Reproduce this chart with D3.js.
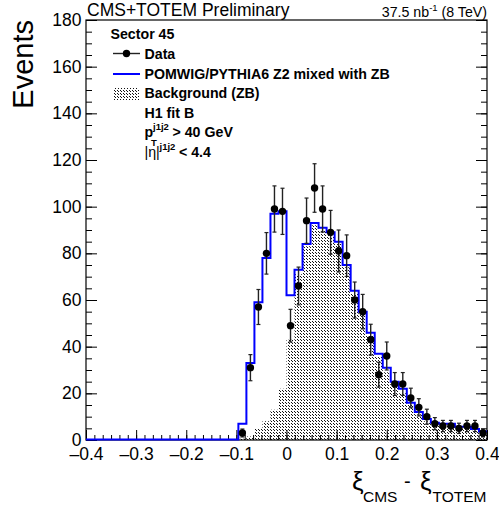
<!DOCTYPE html>
<html>
<head>
<meta charset="utf-8">
<script src="https://cdn.jsdelivr.net/npm/d3@7"></script>
<style>
  body { margin: 0; background: #fff; }
  svg { display: block; }
</style>
</head>
<body>
<script>
// histogram binning
var xMin = -0.4;
var xMax = 0.4;
var binWidth = 0.016;

// data counts per bin (50 bins), and errors
var dataCounts = [0,0,0,0,0,0,0,0,0,0, 0,0,0,0,0,0,0,0,0,3,
  31,57,80,99,98,49,66,94,108,99, 89,81,79,60,55,43,28,36,24,24,
  18,14,10,7,6,6,5,6,6,3];
var dataErrors = [0,0,0,0,0,0,0,0,0,0, 0,0,0,0,0,0,0,0,0,1.7,
  5.6,7.5,8.9,9.9,9.9,7.0,8.1,9.7,10.4,9.9, 9.4,9.0,8.9,7.7,7.4,6.6,5.3,6.0,4.9,4.9,
  4.2,3.7,3.2,2.6,2.4,2.4,2.2,2.4,2.4,1.7];
// POMWIG/PYTHIA6 Z2 mixed with ZB
var mcCounts = [0,0,0,0,0,0,0,0,0,0, 0,0,0,0,0,0,0,0,0,7,
  33,59,78,97,98,62,73,84,93,91, 89,85,75,64,55,46,37,31,25,22,
  16,12,9,7.4,7,7,5.7,5.7,4.7,3.6];
// Background (ZB)
var bgCounts = [0,0,0,0,0,0,0,0,0,0, 0,0,0,0,0,0,0,0,0,0.5,
  1.5,5,8,13,22,43,71,83,92,90, 88,84,74,63,54,45,36,29,23,20,
  15,11,8,6.5,6,6,5,5,4,3];

var xMajor = [-0.4, -0.3, -0.2, -0.1, 0, 0.1, 0.2, 0.3, 0.4];
var yMajor = [0, 20, 40, 60, 80, 100, 120, 140, 160, 180];

var w = 499;
var h = 511;
var padL = 86, padR = 487, padT = 20, padB = 440;
var font = "'Liberation Sans', Arial, sans-serif";

var x = d3.scaleLinear().domain([xMin, xMax]).range([padL, padR]);
var y = d3.scaleLinear().domain([0, 180]).range([padB, padT]);

var svg = d3.select("body").append("svg")
  .attr("width", w)
  .attr("height", h)
  .attr("font-family", font);

// dotted fill like the ROOT pattern
var pat = svg.append("defs").append("pattern")
  .attr("id", "hatch")
  .attr("patternUnits", "userSpaceOnUse")
  .attr("width", 6)
  .attr("height", 6);
[[0,0],[1,1],[3,0],[4,1],[0,3],[1,4],[3,3],[4,4]].forEach(function(p) {
  pat.append("rect").attr("x", p[0]).attr("y", p[1])
    .attr("width", 1).attr("height", 1).attr("fill", "#111");
});

function binLo(i) { return xMin + i * binWidth; }

// background as a filled step area
var bgPts = [];
bgCounts.forEach(function(d, i) {
  bgPts.push([binLo(i), d]);
  bgPts.push([binLo(i + 1), d]);
});
svg.append("path")
  .datum(bgPts)
  .attr("fill", "url(#hatch)")
  .attr("d", d3.area()
    .x(function(d) { return x(d[0]); })
    .y0(y(0))
    .y1(function(d) { return y(d[1]); }));

// minor ticks
var xMinor = d3.range(0, 49).map(function(i) { return xMin + i * 0.1 / 6; });
var yMinor = d3.range(0, 37).map(function(i) { return i * 5; });

svg.append("g").attr("transform", "translate(0," + padB + ")")
  .call(d3.axisBottom(x).tickValues(xMinor).tickSizeInner(-5).tickSizeOuter(0).tickFormat(""));
svg.append("g").attr("transform", "translate(" + padL + ",0)")
  .call(d3.axisLeft(y).tickValues(yMinor).tickSizeInner(-6).tickSizeOuter(0).tickFormat(""));
svg.append("g").attr("transform", "translate(" + padR + ",0)")
  .call(d3.axisRight(y).tickValues(yMinor).tickSizeInner(-6).tickSizeOuter(0).tickFormat(""));

// major ticks with labels
var xAxis = svg.append("g").attr("transform", "translate(0," + padB + ")")
  .call(d3.axisBottom(x).tickValues(xMajor).tickSizeInner(-10).tickSizeOuter(0).tickPadding(7.5)
    .tickFormat(function(d) { return d === 0 ? "0" : d3.format(".1f")(d).replace("-", "\u2013").replace("\u2212", "\u2013"); }));
var yAxis = svg.append("g").attr("transform", "translate(" + padL + ",0)")
  .call(d3.axisLeft(y).tickValues(yMajor).tickSizeInner(-11).tickSizeOuter(0).tickPadding(4.5));
svg.append("g").attr("transform", "translate(" + padR + ",0)")
  .call(d3.axisRight(y).tickValues(yMajor).tickSizeInner(-11).tickSizeOuter(0).tickFormat(""));

svg.selectAll(".domain").remove();
svg.selectAll(".tick line").attr("stroke", "#000");
xAxis.selectAll("text").attr("font-size", "17.5px").attr("fill", "#000").attr("font-family", font);
yAxis.selectAll("text").attr("font-size", "17.5px").attr("fill", "#000").attr("font-family", font);

// frame
svg.append("rect")
  .attr("x", padL).attr("y", padT)
  .attr("width", padR - padL).attr("height", padB - padT)
  .attr("fill", "none").attr("stroke", "#000").attr("stroke-width", 1.2);

// MC step line
var mcPts = [[xMin, 0]];
mcCounts.forEach(function(d, i) {
  mcPts.push([binLo(i), d]);
  mcPts.push([binLo(i + 1), d]);
});
svg.append("path")
  .datum(mcPts)
  .attr("fill", "none")
  .attr("stroke", "#0000ff")
  .attr("stroke-width", 2)
  .attr("d", d3.line()
    .x(function(d) { return x(d[0]); })
    .y(function(d) { return Math.min(y(d[1]), padB - 0.5); }));

// data points with errors
var pts = [];
dataCounts.forEach(function(d, i) {
  if (d > 0) pts.push({ c: xMin + (i + 0.5) * binWidth, v: d, e: dataErrors[i] });
});
var g = svg.append("g");
g.selectAll("line.err")
  .data(pts)
  .enter()
  .append("line")
  .attr("x1", function(d) { return x(d.c); })
  .attr("x2", function(d) { return x(d.c); })
  .attr("y1", function(d) { return y(d.v - d.e); })
  .attr("y2", function(d) { return Math.max(y(d.v + d.e), padT); })
  .attr("stroke", "#222")
  .attr("stroke-width", 1.4);
["lo", "hi"].forEach(function(s) {
  g.selectAll("line.cap" + s)
    .data(pts)
    .enter()
    .append("line")
    .attr("x1", function(d) { return x(d.c) - 2; })
    .attr("x2", function(d) { return x(d.c) + 2; })
    .attr("y1", function(d) { return y(s === "lo" ? d.v - d.e : d.v + d.e); })
    .attr("y2", function(d) { return y(s === "lo" ? d.v - d.e : d.v + d.e); })
    .attr("stroke", "#222")
    .attr("stroke-width", 1.2);
});
g.selectAll("circle")
  .data(pts)
  .enter()
  .append("circle")
  .attr("cx", function(d) { return x(d.c); })
  .attr("cy", function(d) { return y(d.v); })
  .attr("r", 3.7)
  .attr("fill", "#000");

// header texts
svg.append("text").attr("x", 87).attr("y", 16)
  .attr("font-size", "17.5px").text("CMS+TOTEM Preliminary");
var lumi = svg.append("text").attr("x", 487).attr("y", 16.5)
  .attr("text-anchor", "end").attr("font-size", "14.2px");
lumi.append("tspan").text("37.5 nb");
lumi.append("tspan").attr("dy", -6).attr("font-size", "9.5px").text("-1");
lumi.append("tspan").attr("dy", 6).text(" (8 TeV)");

// axis titles
svg.append("text")
  .attr("transform", "translate(33,20) rotate(-90)")
  .attr("text-anchor", "end")
  .attr("font-size", "29px")
  .text("Events");

svg.append("text").attr("x", 352).attr("y", 490).attr("font-size", "26px").text("\u03be");
svg.append("text").attr("x", 363).attr("y", 502).attr("font-size", "15.5px").text("CMS");
svg.append("text").attr("x", 404).attr("y", 488).attr("font-size", "20px").text("-");
svg.append("text").attr("x", 420).attr("y", 490).attr("font-size", "26px").text("\u03be");
svg.append("text").attr("x", 432.5).attr("y", 502).attr("font-size", "15.5px").text("TOTEM");

// legend
var lg = svg.append("g").attr("font-weight", "bold").attr("font-size", "14.2px");
lg.append("text").attr("x", 110.5).attr("y", 38.5).text("Sector 45");

lg.append("line").attr("x1", 113).attr("x2", 140).attr("y1", 53.5).attr("y2", 53.5)
  .attr("stroke", "#222").attr("stroke-width", 1.4);
lg.append("circle").attr("cx", 126.5).attr("cy", 53.5).attr("r", 3.7).attr("fill", "#000");
lg.append("text").attr("x", 144.5).attr("y", 58.5).text("Data");

lg.append("line").attr("x1", 113).attr("x2", 140).attr("y1", 74).attr("y2", 74)
  .attr("stroke", "#0000ff").attr("stroke-width", 2);
lg.append("text").attr("x", 144.5).attr("y", 79).text("POMWIG/PYTHIA6 Z2 mixed with ZB");

lg.append("rect").attr("x", 113).attr("y", 88).attr("width", 26).attr("height", 12)
  .attr("fill", "url(#hatch)");
lg.append("text").attr("x", 144.5).attr("y", 98).text("Background (ZB)");

lg.append("text").attr("x", 144.5).attr("y", 118).text("H1 fit B");

lg.append("text").attr("x", 144.5).attr("y", 137).text("p");
lg.append("text").attr("x", 153).attr("y", 129.5).attr("font-size", "9.5px").text("j1j2");
lg.append("text").attr("x", 151).attr("y", 146).attr("font-size", "9.5px").text("T");
lg.append("text").attr("x", 172.5).attr("y", 137).text("> 40 GeV");

lg.append("text").attr("x", 144.5).attr("y", 157).attr("font-weight", "normal").text("|\u03b7|");
lg.append("text").attr("x", 159.5).attr("y", 150).attr("font-size", "9.5px").text("j1j2");
lg.append("text").attr("x", 179).attr("y", 157).text("< 4.4");
</script>
</body>
</html>
